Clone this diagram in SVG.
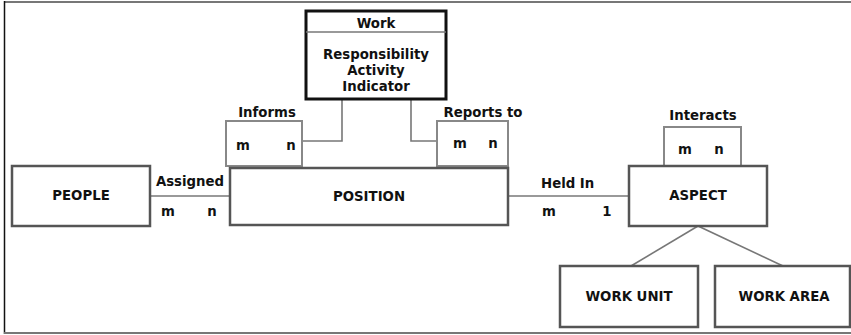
<svg xmlns="http://www.w3.org/2000/svg" width="851" height="335" viewBox="0 0 851 335">
  <style>
    text { font-family: "DejaVu Sans", Verdana, sans-serif; font-weight: bold; font-size: 13.3px; fill: #111; }
    .c { text-anchor: middle; }
    .entity { fill: #fff; stroke: #555; stroke-width: 2.5; }
    .rel { fill: #fff; stroke: #888; stroke-width: 2; }
    .work { fill: #fff; stroke: #111; stroke-width: 3; }
    .link { fill: none; stroke: #777; stroke-width: 1.6; }
    .frame { stroke: #777; stroke-width: 2; }
  </style>

  <!-- outer frame -->
  <g id="frame">
    <line class="frame" x1="4" y1="2" x2="851" y2="2"/>
    <line x1="4.5" y1="1" x2="4.5" y2="334" stroke="#111" stroke-width="1.5"/>
    <line class="frame" x1="4" y1="333" x2="851" y2="333"/>
  </g>

  <!-- connectors -->
  <g id="connectors">
    <polyline class="link" points="342,99 342,141 302,141"/>
    <polyline class="link" points="411,99 411,141 437,141"/>
    <line class="link" x1="150" y1="196" x2="230" y2="196"/>
    <line class="link" x1="508" y1="196" x2="629" y2="196"/>
    <line class="link" x1="698" y1="226" x2="631" y2="266"/>
    <line class="link" x1="698" y1="226" x2="783" y2="266"/>
  </g>

  <g id="work">
    <rect class="work" x="306" y="11" width="140" height="88"/>
    <line x1="306" y1="32" x2="446" y2="32" stroke="#777" stroke-width="1.5"/>
    <text class="c" x="376" y="28">Work</text>
    <text class="c" x="376" y="59">Responsibility</text>
    <text class="c" x="376" y="75">Activity</text>
    <text class="c" x="376" y="91">Indicator</text>
  </g>

  <g id="informs">
    <rect class="rel" x="226" y="121" width="76" height="45"/>
    <text class="c" x="267" y="117">Informs</text>
    <text class="c" x="243" y="150">m</text>
    <text class="c" x="291" y="150">n</text>
  </g>

  <g id="reports-to">
    <rect class="rel" x="437" y="121" width="71" height="45"/>
    <text class="c" x="483" y="117">Reports to</text>
    <text class="c" x="460" y="148">m</text>
    <text class="c" x="493" y="148">n</text>
  </g>

  <g id="people">
    <rect class="entity" x="12" y="166" width="138" height="60"/>
    <text class="c" x="81" y="200">PEOPLE</text>
  </g>

  <g id="assigned">
    <text class="c" x="190" y="186">Assigned</text>
    <text class="c" x="168" y="216">m</text>
    <text class="c" x="212" y="216">n</text>
  </g>

  <g id="position">
    <rect class="entity" x="230" y="168" width="278" height="57"/>
    <text class="c" x="369" y="201">POSITION</text>
  </g>

  <g id="held-in">
    <text x="541" y="188">Held In</text>
    <text class="c" x="549" y="216">m</text>
    <text class="c" x="607" y="216">1</text>
  </g>

  <g id="interacts">
    <rect class="rel" x="664" y="127" width="77" height="39"/>
    <text class="c" x="703" y="120">Interacts</text>
    <text class="c" x="685" y="154">m</text>
    <text class="c" x="719" y="154">n</text>
  </g>

  <g id="aspect">
    <rect class="entity" x="629" y="166" width="138" height="60"/>
    <text class="c" x="698" y="200">ASPECT</text>
  </g>

  <g id="work-unit">
    <rect class="entity" x="560" y="266" width="138" height="61"/>
    <text class="c" x="629" y="301">WORK UNIT</text>
  </g>

  <g id="work-area">
    <rect class="entity" x="715" y="266" width="135" height="61"/>
    <text class="c" x="784" y="301">WORK AREA</text>
  </g>
</svg>
